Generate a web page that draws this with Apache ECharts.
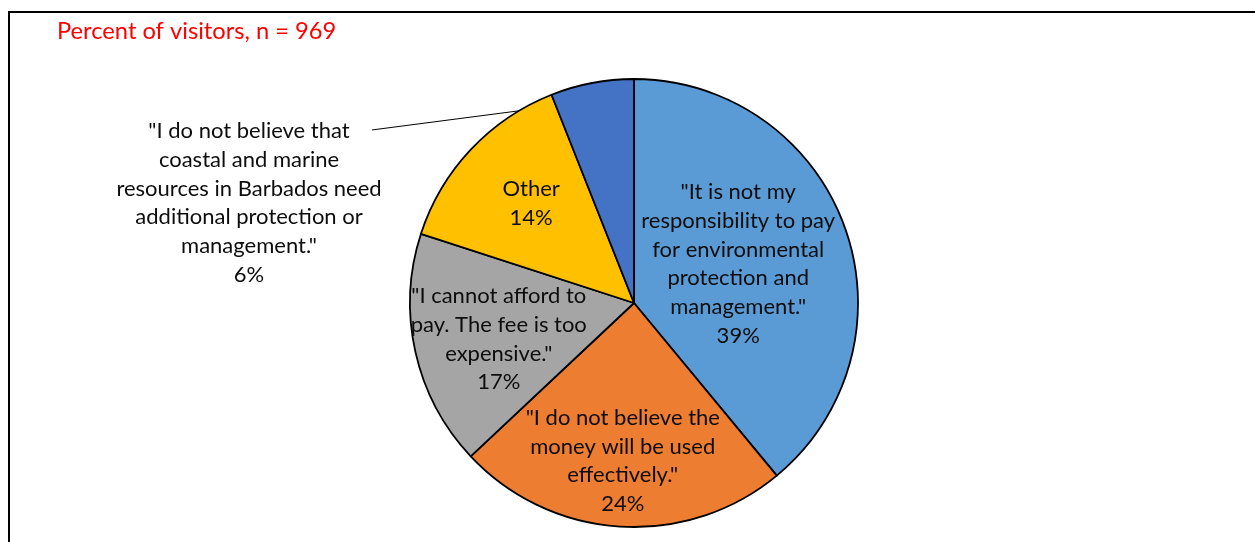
<!DOCTYPE html>
<html>
<head>
<meta charset="utf-8">
<script src="https://cdn.jsdelivr.net/npm/echarts@6/dist/echarts.min.js"></script>
<style>
  html, body { margin: 0; padding: 0; background: #ffffff; }
  #chart { width: 1255px; height: 542px; }
</style>
</head>
<body>
<div id="chart"></div>
<script>
// Survey answers, clockwise from 12 o'clock
const categories = [
  '"It is not my\nresponsibility to pay\nfor environmental\nprotection and\nmanagement."',
  '"I do not believe the\nmoney will be used\neffectively."',
  '"I cannot afford to\npay. The fee is too\nexpensive."',
  'Other',
  '"I do not believe that\ncoastal and marine\nresources in Barbados need\nadditional protection or\nmanagement."'
];
const percentages = [39, 24, 17, 14, 6];
const titleText = 'Percent of visitors, n = 969';

const sliceColors = ['#5B9BD5', '#ED7D31', '#A5A5A5', '#FFC000', '#4472C4'];
const FONT = 'Lato, "Open Sans", sans-serif';

// nudges applied to the inside labels (dx, dy)
const insideLabelNudge = [[-4, 0], [-4, 43], [-23, 11], [-19, -21]];

const chart = echarts.init(document.getElementById('chart'), null, { renderer: 'canvas' });

const seriesData = categories.map((name, i) => {
  const item = {
    name: name,
    value: percentages[i],
    itemStyle: { color: sliceColors[i] }
  };
  if (i === categories.length - 1) {
    item.label = { position: 'outside' };
    item.labelLine = { show: true };
  }
  return item;
});

chart.setOption({
  animation: false,
  backgroundColor: '#ffffff',
  title: {
    text: titleText,
    left: 57,
    top: 19,
    padding: 0,
    textStyle: { color: '#FF0000', fontSize: 23.7, fontWeight: 'normal', fontFamily: FONT }
  },
  graphic: [{
    type: 'polyline',
    shape: { points: [[9, 542], [9, 12], [1255, 12]] },
    style: { stroke: '#000000', lineWidth: 2, fill: null },
    silent: true
  }],
  series: [{
    type: 'pie',
    center: [634, 303],
    radius: 224,
    startAngle: 90,
    clockwise: true,
    avoidLabelOverlap: false,
    itemStyle: { borderColor: '#000000', borderWidth: 1.8 },
    label: {
      show: true,
      position: 'inside',
      formatter: '{b}\n{c}%',
      color: '#0d0d0d',
      fontFamily: FONT,
      fontSize: 22,
      lineHeight: 28.7,
      align: 'center'
    },
    labelLine: {
      show: false,
      length: 15,
      length2: 30,
      lineStyle: { color: '#000000', width: 1 }
    },
    labelLayout: function (params) {
      const i = params.dataIndex;
      if (i < insideLabelNudge.length) {
        return { dx: insideLabelNudge[i][0], dy: insideLabelNudge[i][1] };
      }
      const pts = params.labelLinePoints;
      if (!pts) return {};
      const p0 = pts[0];
      return {
        x: p0[0] - 343,
        y: p0[1] + 120,
        align: 'center',
        verticalAlign: 'middle',
        labelLinePoints: [[p0[0] - 5, p0[1] + 19], [p0[0] - 220, p0[1] + 47]]
      };
    },
    data: seriesData
  }]
});
</script>
</body>
</html>
